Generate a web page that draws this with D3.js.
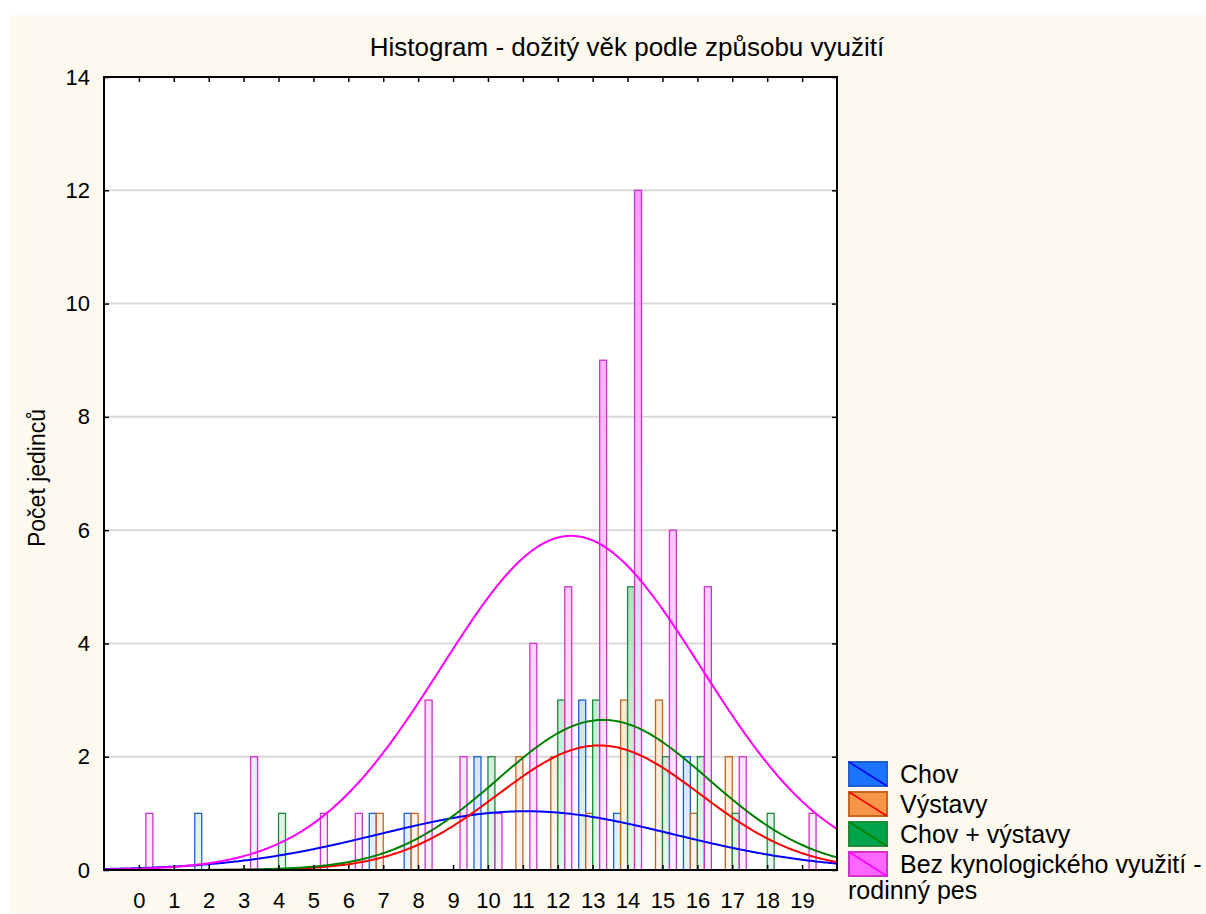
<!DOCTYPE html>
<html>
<head>
<meta charset="utf-8">
<script src="https://cdn.jsdelivr.net/npm/d3@7"></script>
<style>
  html, body { margin: 0; padding: 0; background: #ffffff; }
  svg { display: block; }
  text { font-family: "Liberation Sans", Arial, sans-serif; fill: #000; }
</style>
</head>
<body>
<svg id="chart" width="1206" height="914"></svg>
<script>
// ---- data ----
const ages = [0,1,2,3,4,5,6,7,8,9,10,11,12,13,14,15,16,17,18,19];
const chov        = [0,0,1,0,0,0,0,1,1,0,2,0,0,3,1,0,2,0,0,0];
const vystavy     = [0,0,0,0,0,0,0,1,1,0,0,2,2,1,3,3,1,2,0,0];
const chovVystavy = [0,0,0,0,1,0,0,0,0,0,2,0,3,3,5,2,2,1,1,0];
const bez         = [1,0,0,2,0,1,1,0,3,2,1,4,5,9,12,6,5,2,0,1];
const seriesNames = ["Chov", "Výstavy", "Chov + výstavy", "Bez kynologického využití -"];
const yTicks = [0,2,4,6,8,10,12,14];
const titleText = "Histogram - dožitý věk podle způsobu využití";
const yLabelText = "Počet jedinců";
const legendWrapText = "rodinný pes";

// ---- styles ----
const fillColors   = ["#1a74ff", "#f79646", "#00a44a", "#ff66ff"];
const strokeColors = ["#1f5fd0", "#c4661e", "#1e8a3a", "#cc33cc"];
const curveColors  = ["#0000ff", "#ff0000", "#008000", "#ff00ff"];
const seriesData = [chov, vystavy, chovVystavy, bez];

const svg = d3.select("#chart");
const W = 1206, H = 914;
const plot = {left: 104, right: 837, top: 77, bottom: 870};

// background
svg.append("rect").attr("x", 0).attr("y", 0).attr("width", W).attr("height", H).attr("fill", "#ffffff");
svg.append("rect").attr("x", 10).attr("y", 15).attr("width", W - 10).attr("height", H - 15).attr("fill", "#fdf9ef");

const x = d3.scaleLinear().domain([-1, 20]).range([plot.left, plot.right]);
const y = d3.scaleLinear().domain([0, 14]).range([plot.bottom, plot.top]);

// plot background
svg.append("rect").attr("x", plot.left).attr("y", plot.top)
  .attr("width", plot.right - plot.left).attr("height", plot.bottom - plot.top).attr("fill", "#ffffff");

// gradients
const defs = svg.append("defs");
fillColors.forEach((c, i) => {
  const g = defs.append("linearGradient").attr("id", "grad" + i)
    .attr("gradientUnits", "userSpaceOnUse")
    .attr("x1", 0).attr("x2", 0).attr("y1", plot.bottom).attr("y2", plot.top);
  g.append("stop").attr("offset", 0).attr("stop-color", d3.interpolateRgb("#ffffff", c)(0.12));
  g.append("stop").attr("offset", 1).attr("stop-color", c);
});

// gridlines
svg.append("g").selectAll("line").data(yTicks.filter(t => t > 0 && t < 14)).join("line")
  .attr("x1", plot.left).attr("x2", plot.right)
  .attr("y1", d => y(d)).attr("y2", d => y(d))
  .attr("stroke", "#d9d9d9").attr("stroke-width", 2);

// bars
const barW = 0.2;
const offsets = [-0.4, -0.2, 0, 0.2];
seriesData.forEach((vals, si) => {
  svg.append("g").selectAll("rect")
    .data(ages.map((a, i) => ({a, v: vals[i]})).filter(d => d.v > 0))
    .join("rect")
    .attr("x", d => x(d.a + offsets[si]))
    .attr("width", d => x(d.a + offsets[si] + barW) - x(d.a + offsets[si]))
    .attr("y", d => y(d.v))
    .attr("height", d => y(0) - y(d.v))
    .attr("fill", "url(#grad" + si + ")")
    .attr("fill-opacity", 0.75)
    .attr("stroke", strokeColors[si])
    .attr("stroke-width", 1.3);
});

// fitted normal curves (computed from the bar data)
function fit(vals) {
  let n = 0, s = 0;
  ages.forEach((a, i) => { n += vals[i]; s += a * vals[i]; });
  const m = s / n;
  let ss = 0;
  ages.forEach((a, i) => { ss += vals[i] * (a - m) * (a - m); });
  const sd = Math.sqrt(ss / (n - 1));
  return {n, m, sd};
}
const xs = d3.range(-1, 20.001, 0.05);
const line = d3.line().x(d => x(d[0])).y(d => y(d[1])).curve(d3.curveLinear);
seriesData.forEach((vals, si) => {
  const f = fit(vals);
  const pts = xs.map(v => [v, f.n * Math.exp(-0.5 * Math.pow((v - f.m) / f.sd, 2)) / (f.sd * Math.sqrt(2 * Math.PI))]);
  svg.append("path").datum(pts).attr("d", line)
    .attr("fill", "none").attr("stroke", curveColors[si]).attr("stroke-width", 2);
});

// axes (ticks inward)
const fontTick = 22;
const xAxisB = d3.axisBottom(x).tickValues(ages).tickSize(-5).tickPadding(22).tickFormat(d3.format("d"));
const gB = svg.append("g").attr("transform", `translate(0,${plot.bottom})`).call(xAxisB);
const xAxisT = d3.axisTop(x).tickValues(ages).tickSize(-5).tickFormat("");
const gT = svg.append("g").attr("transform", `translate(0,${plot.top})`).call(xAxisT);
const yAxisL = d3.axisLeft(y).tickValues(yTicks).tickSize(-5).tickPadding(14).tickFormat(d3.format("d"));
const gL = svg.append("g").attr("transform", `translate(${plot.left},0)`).call(yAxisL);
const yAxisR = d3.axisRight(y).tickValues(yTicks).tickSize(-5).tickFormat("");
const gR = svg.append("g").attr("transform", `translate(${plot.right},0)`).call(yAxisR);
[gB, gT, gL, gR].forEach(g => {
  g.select(".domain").remove();
  g.selectAll(".tick line").attr("stroke", "#000").attr("stroke-width", 1.5);
  g.selectAll(".tick text").style("font-family", '"Liberation Sans", Arial, sans-serif')
    .style("font-size", fontTick + "px").attr("fill", "#000");
});

// frame
svg.append("rect").attr("x", plot.left).attr("y", plot.top)
  .attr("width", plot.right - plot.left).attr("height", plot.bottom - plot.top)
  .attr("fill", "none").attr("stroke", "#000").attr("stroke-width", 2);

// title
svg.append("text").attr("x", 627).attr("y", 56).attr("text-anchor", "middle")
  .style("font-size", "26px").text(titleText);

// y label
svg.append("text").attr("transform", "translate(45,478) rotate(-90)").attr("text-anchor", "middle")
  .style("font-size", "23px").text(yLabelText);

// legend
const lg = svg.append("g");
seriesNames.forEach((name, i) => {
  const y0 = 762 + i * 30;
  lg.append("rect").attr("x", 849).attr("y", y0).attr("width", 38).attr("height", 24)
    .attr("fill", fillColors[i]).attr("stroke", strokeColors[i]).attr("stroke-width", 2);
  lg.append("line").attr("x1", 849).attr("y1", y0).attr("x2", 887).attr("y2", y0 + 24)
    .attr("stroke", curveColors[i]).attr("stroke-width", 1.5);
  lg.append("text").attr("x", 900).attr("y", y0 + 21).style("font-size", "25px").text(name);
});
lg.append("text").attr("x", 848).attr("y", 899).style("font-size", "25px").text(legendWrapText);
</script>
</body>
</html>
